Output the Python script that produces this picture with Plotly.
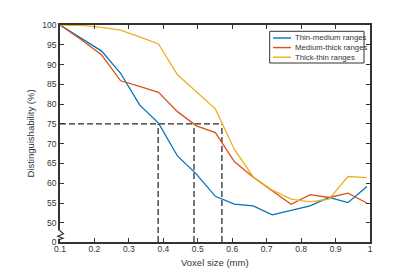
import plotly.graph_objects as go

voxel_size = [0.1, 0.166, 0.221, 0.276, 0.331, 0.386, 0.441, 0.496, 0.551,
              0.606, 0.661, 0.716, 0.771, 0.826, 0.881, 0.936, 0.991]
thin_medium = [100, 96.5, 93.4, 87.8, 79.8, 75.2, 66.9, 62.3, 56.7,
               54.7, 54.3, 52.0, 53.2, 54.3, 56.4, 55.1, 59.2]
medium_thick = [100, 96.0, 92.4, 85.9, 84.5, 83.0, 78.1, 74.5, 72.8,
                65.5, 61.5, 58.1, 54.7, 57.1, 56.4, 57.5, 55.0]
thick_thin = [100, 99.9, 99.4, 98.7, 97.0, 95.2, 87.4, 83.1, 78.8,
              68.6, 61.6, 58.3, 56.0, 55.3, 56.0, 61.7, 61.4]
series_names = ["Thin-medium ranges", "Medium-thick ranges", "Thick-thin ranges"]
series_colors = ["#0072BD", "#D95319", "#EDB120"]

threshold = 75
crossings = [0.385, 0.489, 0.570]

x_ticks = [0.1, 0.2, 0.3, 0.4, 0.5, 0.6, 0.7, 0.8, 0.9, 1.0]
x_tick_labels = ["0.1", "0.2", "0.3", "0.4", "0.5", "0.6", "0.7", "0.8", "0.9", "1"]
y_bottom = 45.15
y_ticks = [y_bottom, 50, 55, 60, 65, 70, 75, 80, 85, 90, 95, 100]
y_tick_labels = ["0", "50", "55", "60", "65", "70", "75", "80", "85", "90", "95", "100"]

W, H = 400, 271
ML, MR, MT, MB = 52, 38, 17, 37
PW, PH = W - ML - MR, H - MT - MB
AX = "#333333"
TXT = "#333333"


def px(x):
    return (x - ML) / PW


def py(y):
    return (H - MB - y) / PH


fig = go.Figure()

# dashed reference lines
fig.add_trace(go.Scatter(x=[voxel_size[0], crossings[-1]], y=[threshold, threshold],
                         mode="lines", line=dict(color="#2a2a2a", width=1.4, dash="6px,3px"),
                         showlegend=False, hoverinfo="skip"))
for c in crossings:
    fig.add_trace(go.Scatter(x=[c, c], y=[y_bottom, threshold], mode="lines",
                             line=dict(color="#555555", width=1.6, dash="6px,3px"),
                             showlegend=False, hoverinfo="skip"))

for name, vals, col in zip(series_names, [thin_medium, medium_thick, thick_thin], series_colors):
    fig.add_trace(go.Scatter(x=voxel_size, y=vals, mode="lines", name=name,
                             line=dict(color=col, width=1.3), showlegend=False))

shapes = []
annotations = []
# axis break: white gap over left axis + zigzag
shapes.append(dict(type="rect", xref="paper", yref="paper",
                   x0=px(50.0), x1=px(53.5), y0=py(230.8), y1=py(222.5),
                   fillcolor="white", line=dict(width=0), layer="above"))
zig = [(51.7, 222.5), (55.5, 225.8), (49.8, 228.3), (55.0, 230.3), (51.7, 231.5)]
path = "M " + " L ".join(f"{px(a):.5f},{py(b):.5f}" for a, b in zig)
shapes.append(dict(type="path", xref="paper", yref="paper", path=path,
                   line=dict(color=AX, width=1.2), layer="above"))

# legend box
lx0, lx1, ly0, ly1 = 261.7, 356.0, 23.3, 55.0
shapes.append(dict(type="rect", xref="paper", yref="paper",
                   x0=px(lx0), x1=px(lx1), y0=py(ly1), y1=py(ly0),
                   fillcolor="white", line=dict(color=AX, width=1), layer="above"))
rows = [30.0, 39.6, 49.2]
for name, col, ry in zip(series_names, series_colors, rows):
    shapes.append(dict(type="line", xref="paper", yref="paper",
                       x0=px(265), x1=px(283), y0=py(ry), y1=py(ry),
                       line=dict(color=col, width=1.4), layer="above"))
    annotations.append(dict(text=name, xref="paper", yref="paper", x=px(284.5), y=py(ry),
                            xanchor="left", yanchor="middle", showarrow=False,
                            font=dict(size=7.8, color=TXT, family="Liberation Sans, Arial")))

# x-axis title placed as text
annotations.append(dict(text="Voxel size (mm)", xref="paper", yref="paper",
                        x=0.5, y=py(255), xanchor="center", yanchor="middle",
                        showarrow=False, font=dict(size=9.5, color=TXT)))

fig.update_layout(
    width=W, height=H,
    margin=dict(l=ML, r=MR, t=MT, b=MB),
    paper_bgcolor="white", plot_bgcolor="white",
    font=dict(family="Liberation Sans, Arial", size=9, color=TXT),
    shapes=shapes, annotations=annotations,
    showlegend=False,
    xaxis=dict(range=[0.1, 1.0], tickvals=x_ticks, ticktext=x_tick_labels,
               showgrid=False, zeroline=False, showline=True, mirror="ticks",
               linecolor=AX, linewidth=1.5, ticks="inside", ticklen=4, tickcolor=AX,
               tickwidth=1, tickfont=dict(size=8.5, color=TXT), ticklabelstandoff=-2),
    yaxis=dict(range=[y_bottom, 100], tickvals=y_ticks, ticktext=y_tick_labels,
               showgrid=False, zeroline=False, showline=True, mirror="ticks",
               linecolor=AX, linewidth=1.5, ticks="inside", ticklen=4, tickcolor=AX,
               tickwidth=1, tickfont=dict(size=8.5, color=TXT),
               title=dict(text="Distinguishability (%)", font=dict(size=9.5, color=TXT), standoff=6)),
)

fig.write_html("out.html")
